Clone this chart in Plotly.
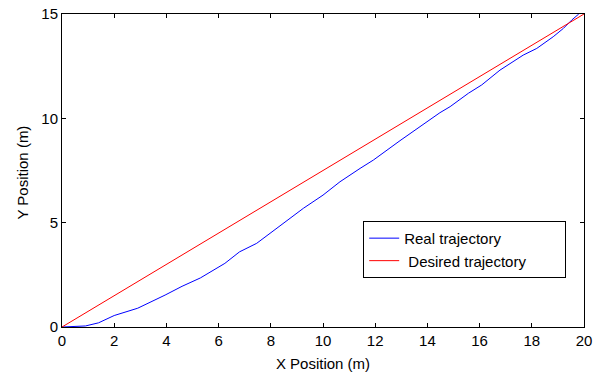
import plotly.graph_objects as go

# Real trajectory
real_x = [0, 0.5, 0.9, 1.4, 2.0, 2.9, 3.5, 3.95, 4.6, 5.3, 6.24, 6.8, 7.46, 8.48,
          9.25, 10.0, 10.65, 11.42, 11.93, 12.95, 13.72, 14.48, 14.87, 15.57, 16.08,
          16.78, 17.67, 18.19, 18.82, 19.21, 19.53, 19.8]
real_y = [0, 0.01, 0.05, 0.2, 0.55, 0.9, 1.25, 1.53, 1.95, 2.35, 3.05, 3.6, 4.01, 4.97,
          5.69, 6.32, 6.96, 7.6, 8.0, 8.93, 9.6, 10.27, 10.56, 11.2, 11.6,
          12.31, 13.03, 13.35, 13.91, 14.31, 14.71, 15.0]

# Desired trajectory
desired_x = [0, 20]
desired_y = [0, 15]

x_ticks = [0, 2, 4, 6, 8, 10, 12, 14, 16, 18, 20]
y_ticks = [0, 5, 10, 15]

FONT = "Liberation Sans, Arial, sans-serif"
PAD = "\u00a0" * 8

fig = go.Figure()
fig.add_trace(go.Scatter(x=real_x, y=real_y, mode="lines", name="Real trajectory",
                         line=dict(color="#0000FF", width=1)))
fig.add_trace(go.Scatter(x=desired_x, y=desired_y, mode="lines",
                         name=" Desired trajectory" + PAD,
                         line=dict(color="#FF0000", width=1)))

axis_common = dict(showgrid=False, zeroline=False, showline=True, linecolor="black",
                   linewidth=1, mirror="ticks", ticks="inside", ticklen=4,
                   tickcolor="black", automargin=False,
                   tickfont=dict(family=FONT, size=15, color="black"))

fig.update_xaxes(range=[0, 20], tickvals=x_ticks,
                 title=dict(text="X Position (m)", font=dict(family=FONT, size=15, color="black")),
                 **axis_common)
fig.update_yaxes(range=[0, 15], tickvals=y_ticks, **axis_common)

fig.add_annotation(text="Y Position (m)", xref="paper", yref="paper",
                   x=-0.0757, y=0.495, xanchor="center", yanchor="middle",
                   textangle=-90, showarrow=False,
                   font=dict(family=FONT, size=15, color="black"))

fig.update_layout(
    width=606, height=372,
    margin=dict(l=62, r=22, t=14, b=45),
    plot_bgcolor="white", paper_bgcolor="white",
    font=dict(family=FONT, size=15, color="black"),
    legend=dict(x=0.577, y=0.339, xanchor="left", yanchor="top",
                bgcolor="white", bordercolor="black", borderwidth=1,
                font=dict(family=FONT, size=15, color="black"),
                tracegroupgap=0),
)

fig.write_html("out.html")
